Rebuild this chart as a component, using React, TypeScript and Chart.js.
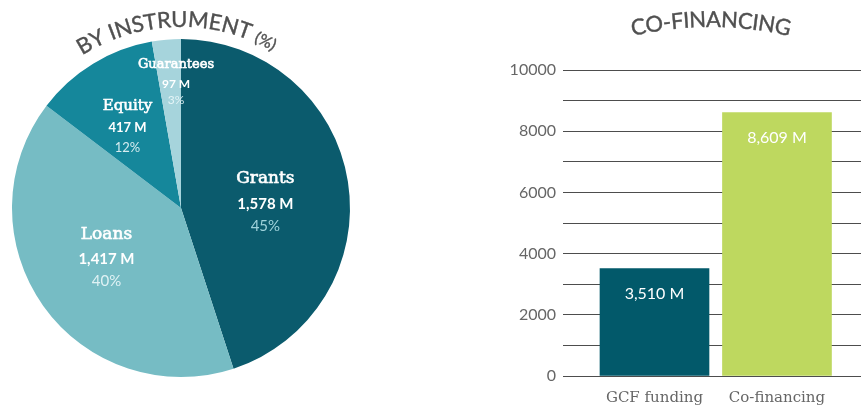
import React, { useEffect, useRef } from "react";
import { Chart, registerables } from "chart.js";

Chart.register(...registerables);

// ---- data ----
const instrumentLabels = ["Grants", "Loans", "Equity", "Guarantees"];
const instrumentValues = [1578, 1417, 417, 97];
const instrumentPercents = ["45%", "40%", "12%", "3%"];
const instrumentColors = ["#0b5b6d", "#76bcc4", "#15879b", "#a6d4dc"];

const financingCategories = ["GCF funding", "Co-financing"];
const financingValues = [3510, 8609];
const financingColors = ["#02596a", "#bed85f"];
const yTickStep = 1000;
const yLabelStep = 2000;
const yMax = 10000;

// ---- styles ----
// [radius factor, angle offset in degrees, name size, number size, line gap]
const sliceLabelStyle = [
  [0.5, 5.6, 17, 15, 24],
  [0.532, 1.4, 17, 15, 24],
  [0.574, -2.1, 15, 13, 21],
  [0.74, 2.7, 13, 12, 18],
];

type Seg = { text: string; font: string };

function drawArcText(
  ctx: CanvasRenderingContext2D,
  segs: Seg[],
  cx: number,
  cy: number,
  r: number,
  centerDeg: number,
  targetWidth: number,
  color: string
) {
  const chars: { c: string; font: string; w: number }[] = [];
  segs.forEach((s) => {
    ctx.font = s.font;
    for (const c of s.text) chars.push({ c, font: s.font, w: ctx.measureText(c).width });
  });
  const raw = chars.reduce((a, b) => a + b.w, 0);
  const spacing = (targetWidth - raw) / Math.max(1, chars.length - 1);
  let a = (centerDeg * Math.PI) / 180 - targetWidth / (2 * r);
  ctx.save();
  ctx.fillStyle = color;
  ctx.strokeStyle = color;
  ctx.lineWidth = 0.4;
  ctx.textAlign = "center";
  ctx.textBaseline = "alphabetic";
  chars.forEach((ch) => {
    const ang = a + ch.w / 2 / r;
    const x = cx + r * Math.sin(ang);
    const y = cy - r * Math.cos(ang);
    ctx.save();
    ctx.translate(x, y);
    ctx.rotate(ang);
    ctx.font = ch.font;
    ctx.fillText(ch.c, 0, 0);
    ctx.strokeText(ch.c, 0, 0);
    ctx.restore();
    a += (ch.w + spacing) / r;
  });
  ctx.restore();
}

const pieLabelPlugin = {
  id: "pieLabels",
  afterDatasetsDraw(chart: any) {
    const ctx: CanvasRenderingContext2D = chart.ctx;
    const meta = chart.getDatasetMeta(0);
    meta.data.forEach((arc: any, i: number) => {
      const st = sliceLabelStyle[i];
      const mid = (arc.startAngle + arc.endAngle) / 2 + (st[1] * Math.PI) / 180;
      const r = arc.outerRadius * st[0];
      const x = arc.x + Math.cos(mid) * r;
      const y = arc.y + Math.sin(mid) * r;
      ctx.save();
      ctx.textAlign = "center";
      ctx.textBaseline = "middle";
      ctx.fillStyle = "#ffffff";
      ctx.strokeStyle = "#ffffff";
      ctx.lineWidth = 0.6;
      ctx.font = `${st[2]}px "DejaVu Serif"`;
      ctx.fillText(instrumentLabels[i], x, y - st[4]);
      ctx.strokeText(instrumentLabels[i], x, y - st[4]);
      ctx.font = `bold ${st[3]}px Lato`;
      ctx.fillText(instrumentValues[i].toLocaleString("en-US") + " M", x, y + 1);
      ctx.font = `${st[3]}px Lato`;
      ctx.fillStyle = i === 0 ? "#9fd2db" : "rgba(235,247,249,0.9)";
      ctx.fillText(instrumentPercents[i], x, y + 1 + st[4] * 0.92);
      ctx.restore();
    });
    drawArcText(
      ctx,
      [
        { text: "BY INSTRUMENT ", font: "22px Lato" },
        { text: "(%)", font: "16px Lato" },
      ],
      181,
      213,
      186,
      -1.3,
      200,
      "#505050"
    );
  },
};

const barLabelPlugin = {
  id: "barLabels",
  afterDatasetsDraw(chart: any) {
    const ctx: CanvasRenderingContext2D = chart.ctx;
    const meta = chart.getDatasetMeta(0);
    meta.data.forEach((bar: any, i: number) => {
      ctx.save();
      ctx.textAlign = "center";
      ctx.textBaseline = "middle";
      ctx.fillStyle = "#ffffff";
      ctx.font = "16px Lato";
      ctx.fillText(financingValues[i].toLocaleString("en-US") + " M", bar.x, bar.y + 25);
      ctx.restore();
    });
    drawArcText(ctx, [{ text: "CO-FINANCING", font: "22px Lato" }], 281, 369, 342, 0, 158, "#505050");
  },
};

export default function App() {
  const pieRef = useRef<HTMLCanvasElement>(null);
  const barRef = useRef<HTMLCanvasElement>(null);

  useEffect(() => {
    document.body.style.margin = "0";
    const pie = new Chart(pieRef.current!, {
      type: "pie",
      data: {
        labels: instrumentLabels,
        datasets: [
          {
            data: instrumentValues,
            backgroundColor: instrumentColors,
            borderWidth: 0,
          },
        ],
      },
      options: {
        animation: false,
        responsive: false,
        maintainAspectRatio: false,
        layout: { padding: { left: 12, top: 39, right: 80, bottom: 29 } },
        plugins: { legend: { display: false }, tooltip: { enabled: false } },
      },
      plugins: [pieLabelPlugin],
    });

    const bar = new Chart(barRef.current!, {
      type: "bar",
      data: {
        datasets: [
          {
            data: financingValues.map((v, i) => ({ x: i, y: v })),
            backgroundColor: financingColors,
            borderWidth: 0,
            barThickness: 109,
          },
        ],
      },
      options: {
        animation: false,
        responsive: false,
        maintainAspectRatio: false,
        layout: { padding: { left: 0, top: 70, right: 0, bottom: 0 } },
        plugins: { legend: { display: false }, tooltip: { enabled: false } },
        scales: {
          x: {
            type: "linear",
            offset: false,
            bounds: "data",
            min: -0.747,
            max: 1.686,
            grid: { display: false, drawTicks: false, offset: false },
            border: { display: false },
            afterBuildTicks: (s: any) => {
              s.ticks = financingCategories.map((_, i) => ({ value: i }));
            },
            afterFit: (s: any) => {
              s.height = 30;
            },
            ticks: {
              padding: 13,
              color: "#666666",
              font: { family: "DejaVu Serif", size: 15 },
              callback: (v: any) => financingCategories[v] ?? "",
            },
          },
          y: {
            min: 0,
            max: yMax,
            grid: { color: "#4d4d4d", lineWidth: 1, drawTicks: false },
            border: { display: false },
            afterFit: (s: any) => {
              s.width = 133;
            },
            ticks: {
              stepSize: yTickStep,
              padding: 7,
              color: "#666666",
              font: { family: "Lato", size: 16 },
              callback: (v: any) => (Number(v) % yLabelStep === 0 ? String(v) : ""),
            },
          },
        },
      },
      plugins: [barLabelPlugin],
    });

    return () => {
      pie.destroy();
      bar.destroy();
    };
  }, []);

  return (
    <div style={{ position: "fixed", left: 0, top: 0, width: 861, height: 406, background: "#fff" }}>
      <canvas ref={pieRef} width={430} height={406} style={{ position: "absolute", left: 0, top: 0, width: 430, height: 406 }} />
      <canvas ref={barRef} width={431} height={406} style={{ position: "absolute", left: 430, top: 0, width: 431, height: 406 }} />
    </div>
  );
}
